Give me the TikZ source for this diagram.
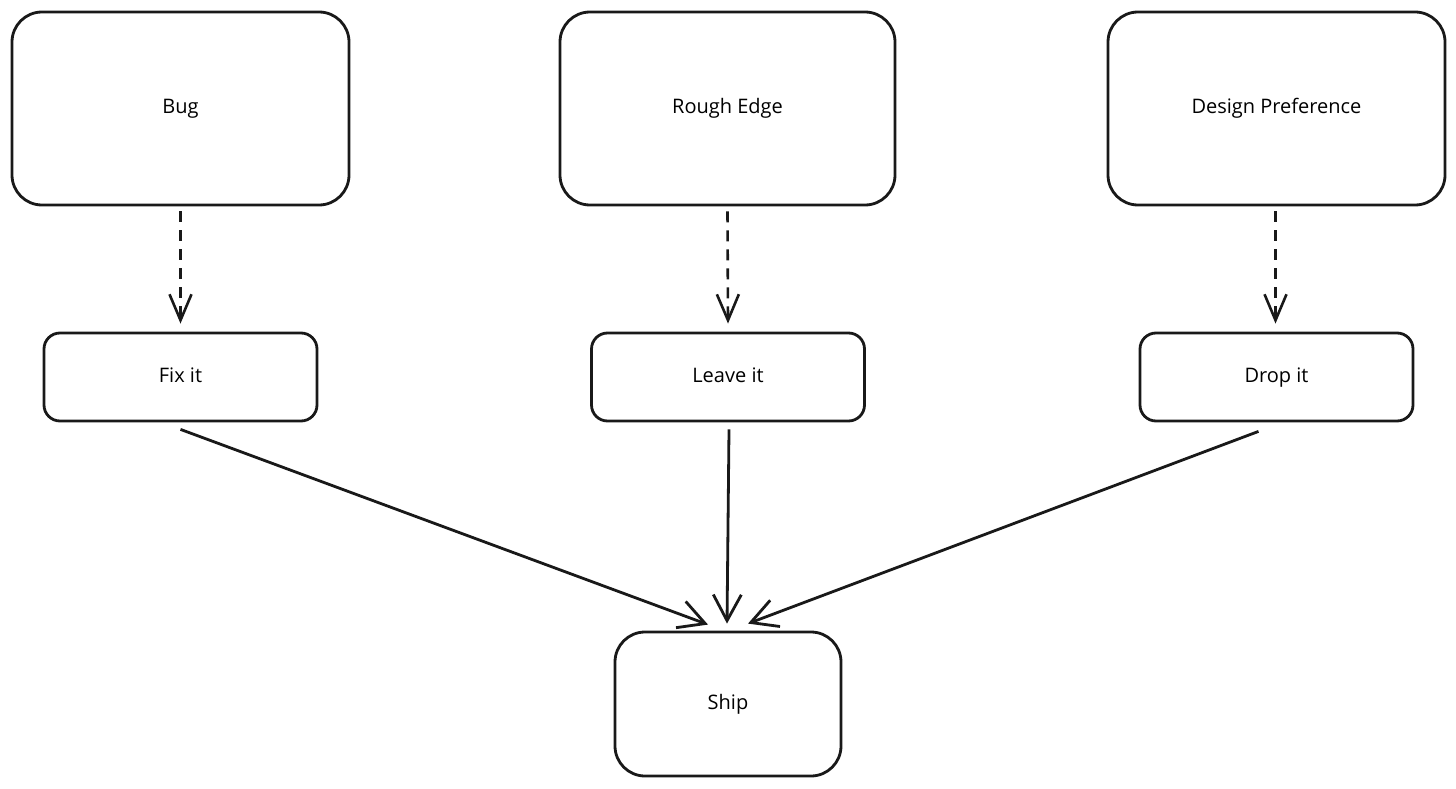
\documentclass[tikz,border=0pt]{standalone}
\usepackage{fontspec}
\setmainfont{Open Sans}
\usetikzlibrary{arrows.meta,calc}
\tikzset{
  boxfont/.style={font=\fontsize{20}{23}\selectfont, text height=14pt, text depth=4pt},
  bigbox/.style={draw=black!90, line width=2.8pt, rounded corners=30pt, minimum width=#1, minimum height=193pt, inner sep=0pt, boxfont},
  smallbox/.style={draw=black!90, line width=2.8pt, rounded corners=16pt, minimum width=273pt, minimum height=88pt, inner sep=0pt, boxfont},
  shipbox/.style={draw=black!90, line width=2.8pt, rounded corners=30pt, minimum width=226pt, minimum height=144pt, inner sep=0pt, boxfont},
  dasharrow/.style={draw=black!90, line width=2.6pt, dash pattern=on 11pt off 8pt, -{Straight Barb[length=26pt,width=22pt,line width=2.6pt]}},
  solidarrow/.style={draw=black!90, line width=2.8pt, -{Straight Barb[length=26pt,width=28pt,line width=2.8pt]}}
}
\begin{document}
\begin{tikzpicture}[x=1pt,y=-1pt]
\useasboundingbox (0,0) rectangle (1456,789);
\node[bigbox=337pt] (bug) at (180.5,108.5) {Bug};
\node[bigbox=335pt] (rough) at (727.5,108.5) {Rough Edge};
\node[bigbox=337pt] (design) at (1276.5,108.5) {Design Preference};
\node[smallbox] (fix) at (180.5,377) {Fix it};
\node[smallbox] (leave) at (728,377) {Leave it};
\node[smallbox] (drop) at (1276.5,377) {Drop it};
\node[shipbox] (ship) at (728,704) {Ship};

\draw[dasharrow] ($(bug.south)+(0,5)$) -- ($(fix.north)+(0,-8)$);
\draw[dasharrow] ($(rough.south)+(0,5)$) -- ($(leave.north)+(0,-8)$);
\draw[dasharrow] ($(design.south)+(-1,5)$) -- ($(drop.north)+(-1,-8)$);

\draw[solidarrow] ($(fix.south)+(0,7)$) -- ($(ship.north)+(-20,-6)$);
\draw[solidarrow] ($(leave.south)+(1,7)$) -- ($(ship.north)+(-1,-7)$);
\draw[solidarrow] ($(drop.south)+(-18,9)$) -- ($(ship.north)+(20,-7)$);
\end{tikzpicture}
\end{document}
